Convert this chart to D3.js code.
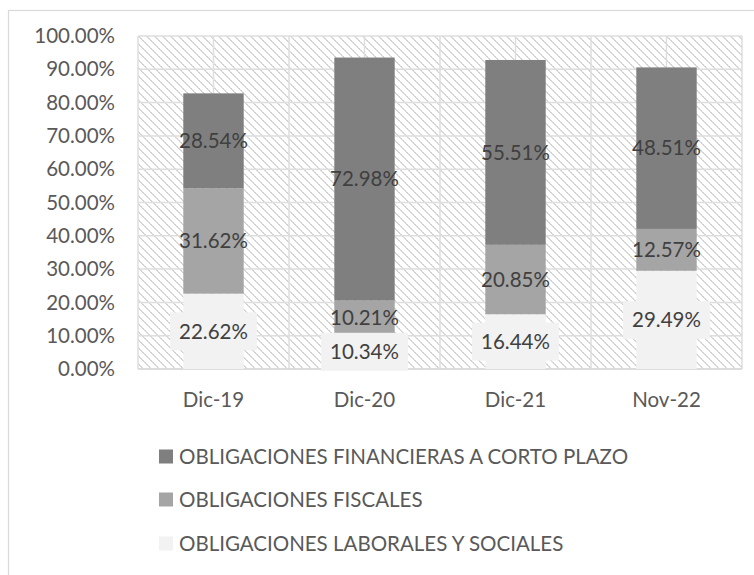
<!DOCTYPE html>
<html>
<head>
<meta charset="utf-8">
<script src="https://cdn.jsdelivr.net/npm/d3@7"></script>
<style>
  html, body { margin: 0; padding: 0; background: #fff; }
  svg { display: block; }
  text { font-family: Lato, "Open Sans", sans-serif; }
</style>
</head>
<body>
<svg id="chart" width="754" height="575"></svg>
<script>
const categories = ["Dic-19", "Dic-20", "Dic-21", "Nov-22"];
const seriesNames = ["OBLIGACIONES LABORALES Y SOCIALES", "OBLIGACIONES FISCALES", "OBLIGACIONES FINANCIERAS A CORTO PLAZO"];
const laborales = [22.62, 10.34, 16.44, 29.49];
const fiscales = [31.62, 10.21, 20.85, 12.57];
const financieras = [28.54, 72.98, 55.51, 48.51];
const yTicks = [0, 10, 20, 30, 40, 50, 60, 70, 80, 90, 100];
const legendOrder = ["OBLIGACIONES FINANCIERAS A CORTO PLAZO", "OBLIGACIONES FISCALES", "OBLIGACIONES LABORALES Y SOCIALES"];
const colors = {
  "OBLIGACIONES LABORALES Y SOCIALES": "#f2f2f2",
  "OBLIGACIONES FISCALES": "#a5a5a5",
  "OBLIGACIONES FINANCIERAS A CORTO PLAZO": "#7f7f7f"
};

const rows = categories.map((c, i) => ({
  cat: c,
  "OBLIGACIONES LABORALES Y SOCIALES": laborales[i],
  "OBLIGACIONES FISCALES": fiscales[i],
  "OBLIGACIONES FINANCIERAS A CORTO PLAZO": financieras[i]
}));

const svg = d3.select("#chart");
const FS = 20.5;

// outer border
svg.append("rect").attr("x", 8.5).attr("y", 10.5).attr("width", 760).attr("height", 600)
  .attr("fill", "#fff").attr("stroke", "#d9d9d9").attr("stroke-width", 1.2);

const plot = { left: 138, right: 742, top: 36, bottom: 369 };

// hatch pattern
const defs = svg.append("defs");
const pat = defs.append("pattern").attr("id", "hatch").attr("patternUnits", "userSpaceOnUse")
  .attr("width", 8).attr("height", 8).attr("x", plot.left).attr("y", plot.top);
pat.append("rect").attr("width", 8).attr("height", 8).attr("fill", "#fff");
for (let i = 0; i < 8; i++) {
  pat.append("rect").attr("x", i).attr("y", i).attr("width", 1).attr("height", 1).attr("fill", "#d4d4d4");
  pat.append("rect").attr("x", (i + 1) % 8).attr("y", i).attr("width", 1).attr("height", 1).attr("fill", (i % 2) ? "#e4e4e4" : "#d4d4d4");
}

const x = d3.scaleBand().domain(categories).range([plot.left, plot.right])
  .paddingInner(0.6).paddingOuter(0.3);
const y = d3.scaleLinear().domain([0, 100]).range([plot.bottom, plot.top]);

svg.append("rect").attr("x", plot.left).attr("y", plot.top)
  .attr("width", plot.right - plot.left).attr("height", plot.bottom - plot.top)
  .attr("fill", "url(#hatch)");

// horizontal gridlines
svg.append("g").selectAll("line").data(yTicks).join("line")
  .attr("x1", plot.left).attr("x2", plot.right)
  .attr("y1", d => y(d)).attr("y2", d => y(d))
  .attr("stroke", "#dedede").attr("stroke-width", 1.5);

// vertical gridlines at half-category positions
const step = x.step();
const vx = [];
categories.forEach((c, i) => {
  const cx = x(c) + x.bandwidth() / 2;
  vx.push(cx - step / 2, cx);
  if (i === categories.length - 1) vx.push(cx + step / 2);
});
svg.append("g").selectAll("line").data(vx).join("line")
  .attr("x1", d => d).attr("x2", d => d)
  .attr("y1", plot.top).attr("y2", plot.bottom)
  .attr("stroke", "#dedede").attr("stroke-width", 1.5);

// bottom axis line
svg.append("line").attr("x1", plot.left).attr("x2", plot.right)
  .attr("y1", plot.bottom).attr("y2", plot.bottom)
  .attr("stroke", "#d9d9d9").attr("stroke-width", 1.5);

// stacked bars
const stack = d3.stack().keys(seriesNames);
const stacked = stack(rows);

const gBars = svg.append("g");
stacked.forEach(s => {
  gBars.append("g").attr("fill", colors[s.key]).selectAll("rect").data(s).join("rect")
    .attr("x", d => x(d.data.cat)).attr("width", x.bandwidth())
    .attr("y", d => y(d[1])).attr("height", d => y(d[0]) - y(d[1]));
});

// labels
const gLab = svg.append("g");
stacked.forEach(s => {
  s.forEach(d => {
    const cx = x(d.data.cat) + x.bandwidth() / 2;
    const cy = (y(d[0]) + y(d[1])) / 2;
    const txt = d.data[s.key].toFixed(2) + "%";
    const g = gLab.append("g");
    const t = g.append("text").attr("x", cx).attr("y", cy).attr("dy", "0.35em")
      .attr("text-anchor", "middle").attr("font-size", FS).attr("fill", "#404040").text(txt);
    if (s.key === "OBLIGACIONES LABORALES Y SOCIALES") {
      const w = t.node().getComputedTextLength();
      g.insert("rect", "text").attr("x", cx - w / 2 - 9).attr("y", cy - 19)
        .attr("width", w + 18).attr("height", 38).attr("fill", colors[s.key]);
    }
  });
});

// y axis labels
svg.append("g").selectAll("text").data(yTicks).join("text")
  .attr("x", 115).attr("y", d => y(d)).attr("dy", "0.35em")
  .attr("text-anchor", "end").attr("font-size", FS).attr("fill", "#595959")
  .text(d => d.toFixed(2) + "%");

// x axis labels
svg.append("g").selectAll("text").data(categories).join("text")
  .attr("x", d => x(d) + x.bandwidth() / 2).attr("y", 400).attr("dy", "0.35em")
  .attr("text-anchor", "middle").attr("font-size", FS).attr("fill", "#595959")
  .text(d => d);

// legend
const legY = [457, 500, 544];
const gLeg = svg.append("g");
legendOrder.forEach((name, i) => {
  gLeg.append("rect").attr("x", 159).attr("y", legY[i] - 7.5).attr("width", 14).attr("height", 14)
    .attr("fill", colors[name]);
  gLeg.append("text").attr("x", 179).attr("y", legY[i]).attr("dy", "0.35em")
    .attr("font-size", FS).attr("fill", "#595959").text(name);
});
</script>
</body>
</html>
